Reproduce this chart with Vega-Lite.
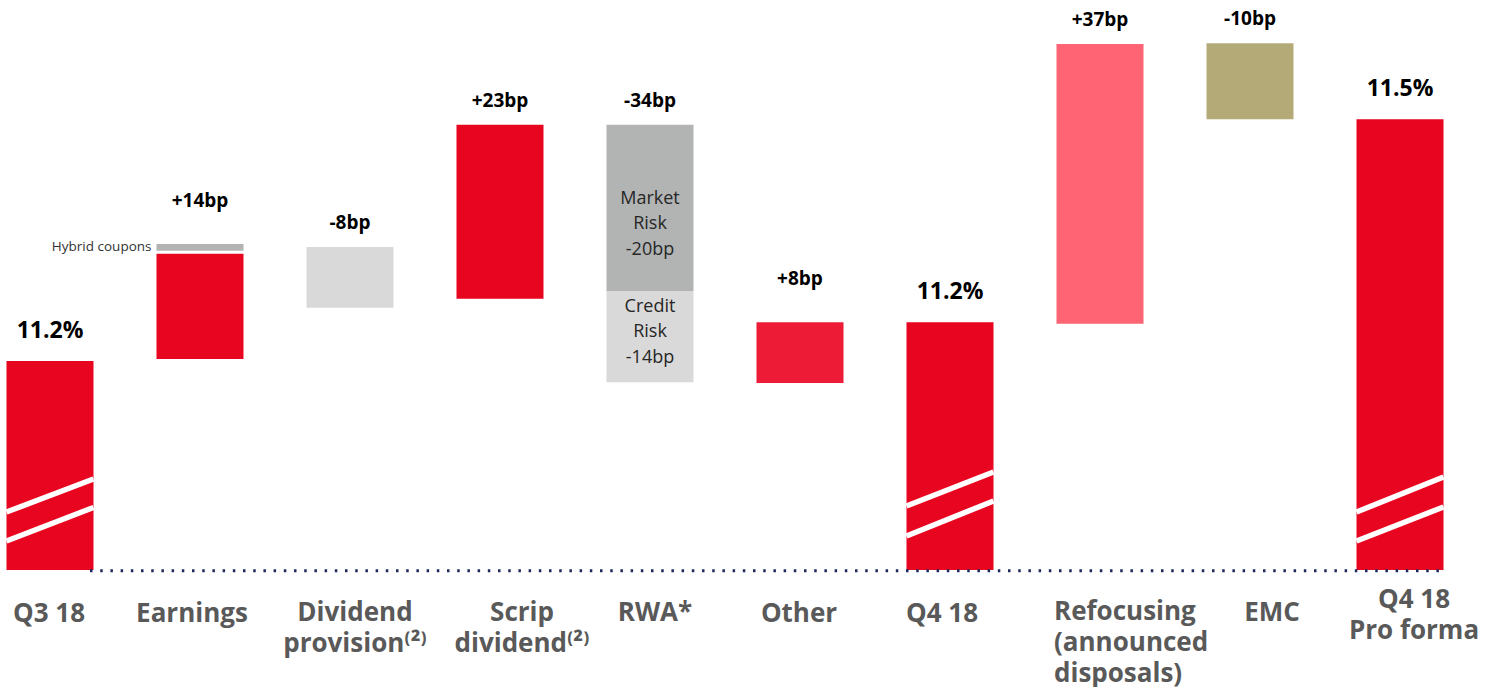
{
  "$schema": "https://vega.github.io/schema/vega-lite/v6.json",
  "width": 1450,
  "height": 570,
  "padding": 0,
  "background": "white",
  "view": {"stroke": null},
  "config": {"font": "Open Sans", "axis": {"title": null}},
  "datasets": {
    "bars": [
      {"cat": "Q3 18", "type": "total", "lo": -27.5, "hi": 0},
      {"cat": "Earnings", "type": "gain", "lo": 0.26, "hi": 14.1},
      {"cat": "Earnings", "type": "hybrid", "lo": 14.5, "hi": 15.4},
      {"cat": "Dividend\nprovision⁽²⁾", "type": "light", "lo": 7.0, "hi": 15.0},
      {"cat": "Scrip\ndividend⁽²⁾", "type": "gain", "lo": 8.2, "hi": 31.1},
      {"cat": "RWA*", "type": "market", "lo": 9.2, "hi": 31.1},
      {"cat": "RWA*", "type": "light", "lo": -2.8, "hi": 9.2},
      {"cat": "Other", "type": "other", "lo": -2.9, "hi": 5.1},
      {"cat": "Q4 18", "type": "total", "lo": -27.5, "hi": 5.1},
      {"cat": "Refocusing\n(announced\ndisposals)", "type": "refocus", "lo": 4.9, "hi": 41.7},
      {"cat": "EMC", "type": "emc", "lo": 31.8, "hi": 41.8},
      {"cat": "Q4 18\nPro forma", "type": "total", "lo": -27.5, "hi": 31.8}
    ],
    "breaks": [
      {"cat": "Q3 18", "y1": -19.87, "y2": -15.53},
      {"cat": "Q3 18", "y1": -23.68, "y2": -19.28},
      {"cat": "Q4 18", "y1": -19.08, "y2": -14.61},
      {"cat": "Q4 18", "y1": -23.03, "y2": -18.42},
      {"cat": "Q4 18\nPro forma", "y1": -19.87, "y2": -15.26},
      {"cat": "Q4 18\nPro forma", "y1": -23.68, "y2": -19.21}
    ],
    "labels": [
      {"cat": "Q3 18", "t": "11.2%", "y": 0, "kind": "pct"},
      {"cat": "Earnings", "t": "+14bp", "y": 15.4, "kind": "bp"},
      {"cat": "Dividend\nprovision⁽²⁾", "t": "-8bp", "y": 15.0, "kind": "bp"},
      {"cat": "Scrip\ndividend⁽²⁾", "t": "+23bp", "y": 31.1, "kind": "bp"},
      {"cat": "RWA*", "t": "-34bp", "y": 31.1, "kind": "bp"},
      {"cat": "Other", "t": "+8bp", "y": 5.1, "kind": "bp"},
      {"cat": "Q4 18", "t": "11.2%", "y": 5.1, "kind": "pct"},
      {"cat": "Refocusing\n(announced\ndisposals)", "t": "+37bp", "y": 41.7, "kind": "bp"},
      {"cat": "EMC", "t": "-10bp", "y": 41.8, "kind": "bp"},
      {"cat": "Q4 18\nPro forma", "t": "11.5%", "y": 31.8, "kind": "pct"}
    ],
    "inner": [
      {"cat": "RWA*", "t": "Market\nRisk\n-20bp", "y": 20.15},
      {"cat": "RWA*", "t": "Credit\nRisk\n-14bp", "y": 3.2}
    ],
    "hybrid": [
      {"cat": "Earnings", "t": "Hybrid coupons", "y": 14.95}
    ],
    "cats": [
      {"cat": "Q3 18"}, {"cat": "Earnings"}, {"cat": "Dividend\nprovision⁽²⁾"}, {"cat": "Scrip\ndividend⁽²⁾"},
      {"cat": "RWA*"}, {"cat": "Other"}, {"cat": "Q4 18"}, {"cat": "Refocusing\n(announced\ndisposals)"},
      {"cat": "EMC"}, {"cat": "Q4 18\nPro forma"}
    ]
  },
  "encoding": {
    "x": {
      "field": "cat", "type": "nominal", "title": null, "axis": null,
      "scale": {"domain": ["Q3 18","Earnings","Dividend\nprovision⁽²⁾","Scrip\ndividend⁽²⁾","RWA*","Other","Q4 18","Refocusing\n(announced\ndisposals)","EMC","Q4 18\nPro forma"], "paddingInner": 0.42, "paddingOuter": 0.0433}
    }
  },
  "layer": [
    {
      "data": {"name": "bars"},
      "mark": {"type": "bar"},
      "encoding": {
        "y": {"field": "lo", "type": "quantitative", "scale": {"domain": [-27.5, 47.5], "nice": false, "zero": false}, "axis": null},
        "y2": {"field": "hi"},
        "color": {
          "field": "type", "type": "nominal", "legend": null,
          "scale": {"domain": ["total","gain","hybrid","light","market","other","refocus","emc"],
                    "range": ["#e8051f","#e8051f","#b3b3b3","#d9d9d9","#b2b4b4","#ee1b36","#ff6474","#b3aa78"]}
        }
      }
    },
    {
      "data": {"name": "breaks"},
      "mark": {"type": "rule", "color": "white", "strokeWidth": 5.5, "strokeCap": "butt"},
      "encoding": {
        "x": {"field": "cat", "type": "nominal", "bandPosition": 0, "axis": null, "title": null,
              "scale": {"domain": ["Q3 18","Earnings","Dividend\nprovision⁽²⁾","Scrip\ndividend⁽²⁾","RWA*","Other","Q4 18","Refocusing\n(announced\ndisposals)","EMC","Q4 18\nPro forma"], "paddingInner": 0.42, "paddingOuter": 0.0433}},
        "x2": {"field": "cat", "bandPosition": 1},
        "y": {"field": "y1", "type": "quantitative", "axis": null},
        "y2": {"field": "y2"}
      }
    },
    {
      "data": {"values": [{}]},
      "mark": {"type": "rule", "color": "#1e2a5e", "strokeWidth": 3, "strokeDash": [2.5, 7.7]},
      "encoding": {
        "x": {"datum": "Q3 18", "type": "nominal", "bandPosition": 0.96, "axis": null, "title": null},
        "x2": {"datum": "Q4 18\nPro forma", "bandPosition": 1},
        "y": {"datum": -27.6, "type": "quantitative", "axis": null}
      }
    },
    {
      "data": {"name": "labels"},
      "transform": [{"filter": "datum.kind === 'bp' && datum.t !== '+14bp' && datum.t !== '+8bp'"}],
      "mark": {"type": "text", "fontWeight": "bold", "fontSize": 19, "color": "#000000", "baseline": "middle", "dy": -24},
      "encoding": {
        "y": {"field": "y", "type": "quantitative", "axis": null},
        "text": {"field": "t"}
      }
    },
    {
      "data": {"name": "labels"},
      "transform": [{"filter": "datum.t === '+14bp' || datum.t === '+8bp'"}],
      "mark": {"type": "text", "fontWeight": "bold", "fontSize": 19, "color": "#000000", "baseline": "middle", "dy": -43},
      "encoding": {
        "y": {"field": "y", "type": "quantitative", "axis": null},
        "text": {"field": "t"}
      }
    },
    {
      "data": {"name": "labels"},
      "transform": [{"filter": "datum.kind === 'pct'"}],
      "mark": {"type": "text", "fontWeight": "bold", "fontSize": 23, "color": "#000000", "baseline": "middle", "dy": -30},
      "encoding": {
        "y": {"field": "y", "type": "quantitative", "axis": null},
        "text": {"field": "t"}
      }
    },
    {
      "data": {"name": "inner"},
      "transform": [{"filter": "indexof(datum.t, 'Market') === 0"}],
      "mark": {"type": "text", "fontSize": 18, "color": "#262626", "baseline": "middle", "lineBreak": "\n", "lineHeight": 25.5, "dy": -9},
      "encoding": {
        "y": {"field": "y", "type": "quantitative", "axis": null},
        "text": {"field": "t"}
      }
    },
    {
      "data": {"name": "inner"},
      "transform": [{"filter": "indexof(datum.t, 'Credit') === 0"}],
      "mark": {"type": "text", "fontSize": 18, "color": "#262626", "baseline": "middle", "lineBreak": "\n", "lineHeight": 25.5, "dy": -30},
      "encoding": {
        "y": {"field": "y", "type": "quantitative", "axis": null},
        "text": {"field": "t"}
      }
    },
    {
      "data": {"name": "hybrid"},
      "mark": {"type": "text", "fontSize": 13.5, "color": "#333333", "baseline": "middle", "align": "right", "dx": -5},
      "encoding": {
        "x": {"field": "cat", "type": "nominal", "bandPosition": 0, "axis": null, "title": null,
              "scale": {"domain": ["Q3 18","Earnings","Dividend\nprovision⁽²⁾","Scrip\ndividend⁽²⁾","RWA*","Other","Q4 18","Refocusing\n(announced\ndisposals)","EMC","Q4 18\nPro forma"], "paddingInner": 0.42, "paddingOuter": 0.0433}},
        "y": {"field": "y", "type": "quantitative", "axis": null},
        "text": {"field": "t"}
      }
    },
    {
      "data": {"name": "cats"},
      "transform": [{"filter": {"field": "cat", "oneOf": ["Q3 18", "Other"]}}],
      "mark": {"type": "text", "fontWeight": "bold", "fontSize": 26, "color": "#595959", "baseline": "top", "lineBreak": "\n", "lineHeight": 31, "dy": 31, "dx": -1},
      "encoding": {"y": {"datum": -27.5, "type": "quantitative", "axis": null}, "text": {"field": "cat"}}
    },
    {
      "data": {"name": "cats"},
      "transform": [{"filter": {"field": "cat", "oneOf": ["Earnings", "Q4 18"]}}],
      "mark": {"type": "text", "fontWeight": "bold", "fontSize": 26, "color": "#595959", "baseline": "top", "lineBreak": "\n", "lineHeight": 31, "dy": 31, "dx": -8},
      "encoding": {"y": {"datum": -27.5, "type": "quantitative", "axis": null}, "text": {"field": "cat"}}
    },
    {
      "data": {"name": "cats"},
      "transform": [{"filter": {"field": "cat", "oneOf": ["Dividend\nprovision⁽²⁾", "RWA*"]}}],
      "mark": {"type": "text", "fontWeight": "bold", "fontSize": 26, "color": "#595959", "baseline": "top", "lineBreak": "\n", "lineHeight": 31, "dy": 30, "dx": 5},
      "encoding": {"y": {"datum": -27.5, "type": "quantitative", "axis": null}, "text": {"field": "cat"}}
    },
    {
      "data": {"name": "cats"},
      "transform": [{"filter": {"field": "cat", "oneOf": ["Scrip\ndividend⁽²⁾", "EMC"]}}],
      "mark": {"type": "text", "fontWeight": "bold", "fontSize": 26, "color": "#595959", "baseline": "top", "lineBreak": "\n", "lineHeight": 31, "dy": 30, "dx": 22},
      "encoding": {"y": {"datum": -27.5, "type": "quantitative", "axis": null}, "text": {"field": "cat"}}
    },
    {
      "data": {"name": "cats"},
      "transform": [{"filter": {"field": "cat", "oneOf": ["Q4 18\nPro forma"]}}],
      "mark": {"type": "text", "fontWeight": "bold", "fontSize": 26, "color": "#595959", "baseline": "top", "lineBreak": "\n", "lineHeight": 31, "dy": 17, "dx": 14},
      "encoding": {"y": {"datum": -27.5, "type": "quantitative", "axis": null}, "text": {"field": "cat"}}
    },
    {
      "data": {"name": "cats"},
      "transform": [{"filter": {"field": "cat", "oneOf": ["Refocusing\n(announced\ndisposals)"]}}],
      "mark": {"type": "text", "fontWeight": "bold", "fontSize": 26, "color": "#595959", "baseline": "top", "align": "left", "lineBreak": "\n", "lineHeight": 31, "dy": 29, "dx": -46},
      "encoding": {"y": {"datum": -27.5, "type": "quantitative", "axis": null}, "text": {"field": "cat"}}
    }
  ]
}
